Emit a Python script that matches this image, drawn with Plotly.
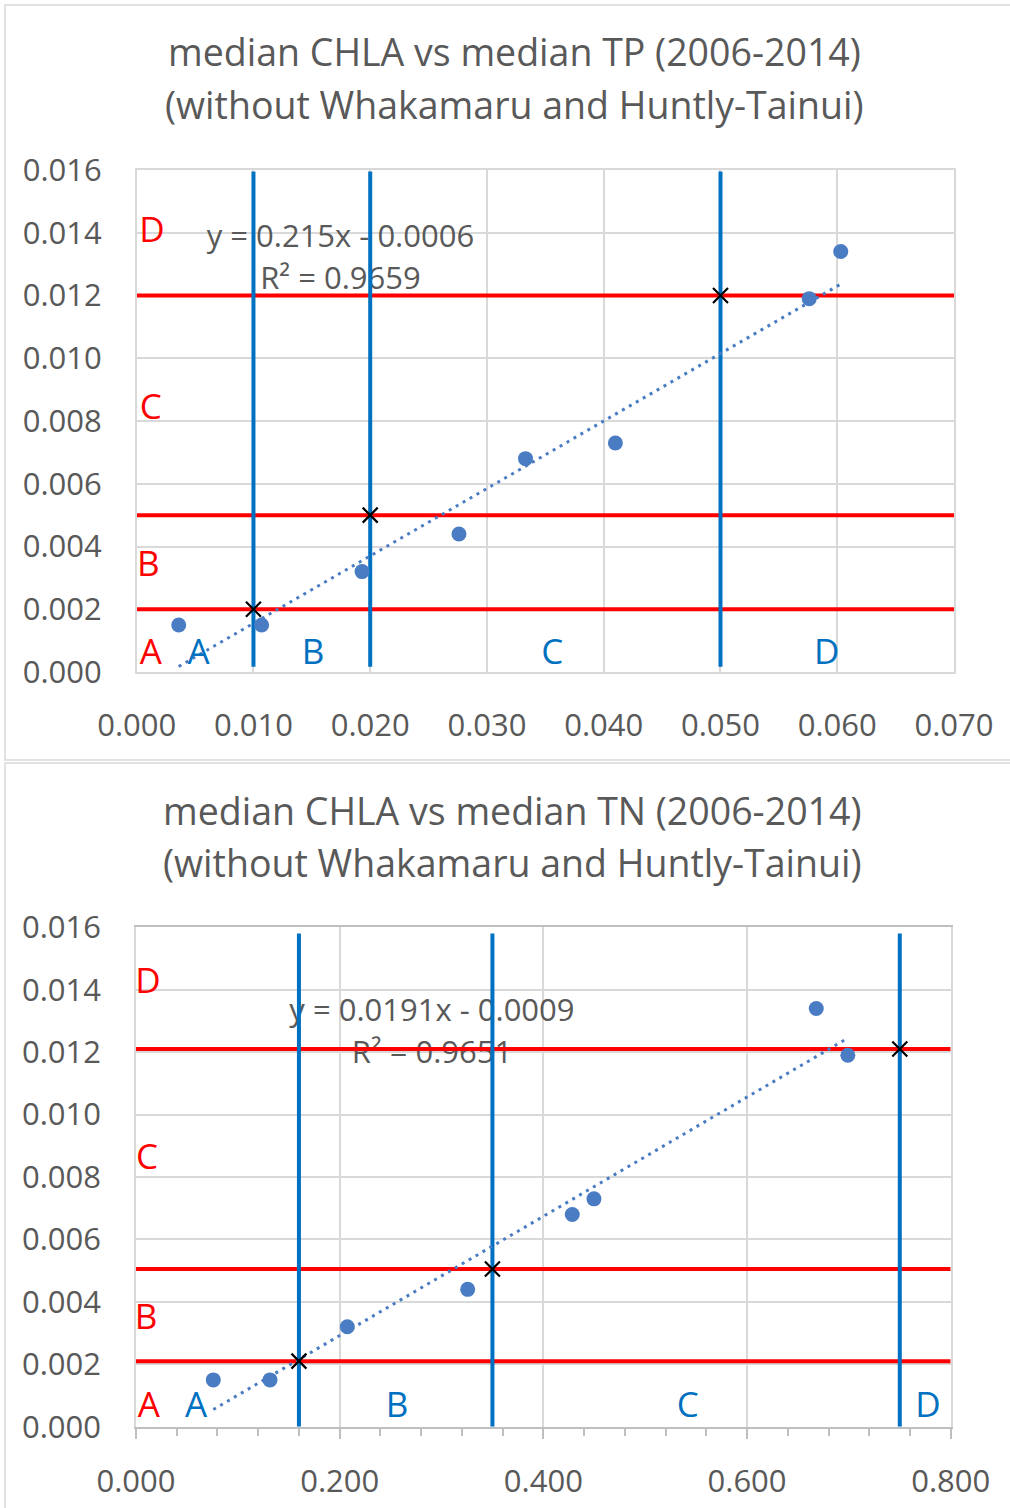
import plotly.graph_objects as go

# ---------------- data ----------------
chla = [0.0015, 0.0015, 0.0032, 0.0044, 0.0068, 0.0073, 0.0119, 0.0134]
tp = [0.0036, 0.0107, 0.0193, 0.0276, 0.0333, 0.0410, 0.0576, 0.0603]
chla_tn = [0.0015, 0.0015, 0.0032, 0.0044, 0.0068, 0.0073, 0.0134, 0.0119]
tn = [0.0759, 0.1316, 0.2075, 0.3257, 0.4284, 0.4497, 0.6680, 0.6990]

tp_fit = (0.215, -0.0006)
tn_fit = (0.0191, -0.0009)

chla_bounds_tp = [0.002, 0.005, 0.012]
tp_bounds = [0.010, 0.020, 0.050]
chla_bounds_tn = [0.0021, 0.00505, 0.0121]
tn_bounds = [0.16, 0.35, 0.75]

classes = ["A", "B", "C", "D"]

FONT = "Open Sans"
GREY = "#595959"
GRID = "#d9d9d9"
DOT = "#4a7cc3"
RED = "#ff0000"
BLUE = "#0070c0"

W, H = 1010, 1508
fig = go.Figure()


def px(x):
    return x / W


def py(y):
    return 1 - y / H


def add_panel(xs, ys, fit, ybounds, xbounds, xref, yref, xr, ymax_line, ymin_line,
              eq_pos, r2_pos, eq_text, r2_text, red_y, red_x, blue_x, blue_y):
    # equation text (under lines)
    fig.add_trace(go.Scatter(x=[eq_pos[0], r2_pos[0]], y=[eq_pos[1], r2_pos[1]],
                             mode="text", text=[eq_text, r2_text],
                             textfont=dict(family=FONT, size=31, color=GREY),
                             xaxis=xref, yaxis=yref, showlegend=False, hoverinfo="skip"))
    # red horizontal threshold lines
    for yb in ybounds:
        fig.add_trace(go.Scatter(x=[xr[0], xr[1]], y=[yb, yb], mode="lines",
                                 line=dict(color=RED, width=4),
                                 xaxis=xref, yaxis=yref, showlegend=False, hoverinfo="skip"))
    # blue vertical threshold lines
    for xb in xbounds:
        fig.add_trace(go.Scatter(x=[xb, xb], y=[ymin_line, ymax_line], mode="lines",
                                 line=dict(color=BLUE, width=4),
                                 xaxis=xref, yaxis=yref, showlegend=False, hoverinfo="skip"))
    # trendline
    x0, x1 = min(xs), max(xs)
    fig.add_trace(go.Scatter(x=[x0, x1], y=[fit[0] * x0 + fit[1], fit[0] * x1 + fit[1]],
                             mode="lines", line=dict(color=DOT, width=3, dash="3px,5px"),
                             xaxis=xref, yaxis=yref, showlegend=False, hoverinfo="skip"))
    # data points
    fig.add_trace(go.Scatter(x=xs, y=ys, mode="markers",
                             marker=dict(color=DOT, size=15),
                             xaxis=xref, yaxis=yref, showlegend=False))
    # intersection crosses
    fig.add_trace(go.Scatter(x=xbounds, y=ybounds, mode="markers",
                             marker=dict(symbol="x-thin", size=15,
                                         line=dict(color="black", width=2.2)),
                             xaxis=xref, yaxis=yref, showlegend=False, hoverinfo="skip"))
    # class letters
    fig.add_trace(go.Scatter(x=red_x, y=red_y, mode="text", text=classes,
                             textfont=dict(family=FONT, size=35, color=RED),
                             xaxis=xref, yaxis=yref, showlegend=False, hoverinfo="skip"))
    fig.add_trace(go.Scatter(x=blue_x, y=blue_y, mode="text", text=classes,
                             textfont=dict(family=FONT, size=35, color=BLUE),
                             xaxis=xref, yaxis=yref, showlegend=False, hoverinfo="skip"))


axis_common = dict(showgrid=True, gridcolor=GRID, gridwidth=1.5, zeroline=False,
                   showline=True, linecolor=GRID, linewidth=1.5, mirror=True,
                   tickfont=dict(family=FONT, size=31, color=GREY),
                   tickformat=".3f", fixedrange=True, automargin=False)

XR1 = [0, 0.07]
XR2 = [0, 0.8]

fig.update_layout(
    width=W, height=H, margin=dict(l=0, r=0, t=0, b=0, autoexpand=False),
    paper_bgcolor="white", plot_bgcolor="white", showlegend=False,
    xaxis=dict(domain=[px(136.7), px(954)], range=XR1, dtick=0.01,
               anchor="y", ticks="", ticklabelstandoff=25, **axis_common),
    yaxis=dict(domain=[py(672), py(170)], range=[0, 0.016], dtick=0.002,
               anchor="x", ticks="", ticklabelstandoff=27, **axis_common),
    xaxis2=dict(domain=[px(136), px(950.7)], range=XR2, dtick=0.2,
                anchor="y2", ticks="outside", ticklen=11, tickcolor="#bfbfbf", tickwidth=1.5,
                minor=dict(dtick=0.04, ticks="outside", ticklen=8, tickcolor="#bfbfbf",
                           tickwidth=1.5, showgrid=False),
                ticklabelstandoff=15,
                **{**axis_common, "linecolor": "#bfbfbf"}),
    yaxis2=dict(domain=[py(1426.7), py(927.3)], range=[0, 0.016], dtick=0.002,
                anchor="x2", ticks="", ticklabelstandoff=27, **axis_common),
)

add_panel(tp, chla, tp_fit, chla_bounds_tp, tp_bounds, "x", "y", XR1,
          0.01595, 0.00017,
          (0.01745, 0.0138), (0.01745, 0.01245),
          "y = 0.215x - 0.0006", "R² = 0.9659",
          [0.00054, 0.00334, 0.00834, 0.0140], [0.0012, 0.0010, 0.0012, 0.0013],
          [0.0053, 0.0151, 0.0356, 0.0591], [0.00054] * 4)

add_panel(tn, chla_tn, tn_fit, chla_bounds_tn, tn_bounds, "x2", "y2", XR2,
          0.0158, 0.0,
          (0.2906, 0.01325), (0.2906, 0.0119),
          "y = 0.0191x - 0.0009", "R² = 0.9651",
          [0.00060, 0.00342, 0.00855, 0.01416], [0.0125, 0.0098, 0.0108, 0.0118],
          [0.059, 0.2563, 0.5419, 0.7776], [0.00060] * 4)

# titles
titles = [
    ("median CHLA vs median TP (2006-2014)", 514, 52),
    ("(without Whakamaru and Huntly-Tainui)", 514, 105),
    ("median CHLA vs median TN (2006-2014)", 512, 810),
    ("(without Whakamaru and Huntly-Tainui)", 512, 862),
]
for t, x, y in titles:
    fig.add_annotation(text=t, x=px(x), y=py(y), xref="paper", yref="paper",
                       showarrow=False, xanchor="center", yanchor="middle",
                       font=dict(family=FONT, size=37.5, color=GREY))

# chart area borders
fig.add_shape(type="rect", xref="paper", yref="paper",
              x0=px(5), x1=px(1014), y0=py(760), y1=py(5),
              line=dict(color=GRID, width=1.5))
fig.add_shape(type="rect", xref="paper", yref="paper",
              x0=px(5), x1=px(1014), y0=py(1512), y1=py(763),
              line=dict(color=GRID, width=1.5))

fig.write_html("out.html", config={"displayModeBar": False},
               post_script="document.body.style.margin='0';document.body.style.overflow='hidden';")
